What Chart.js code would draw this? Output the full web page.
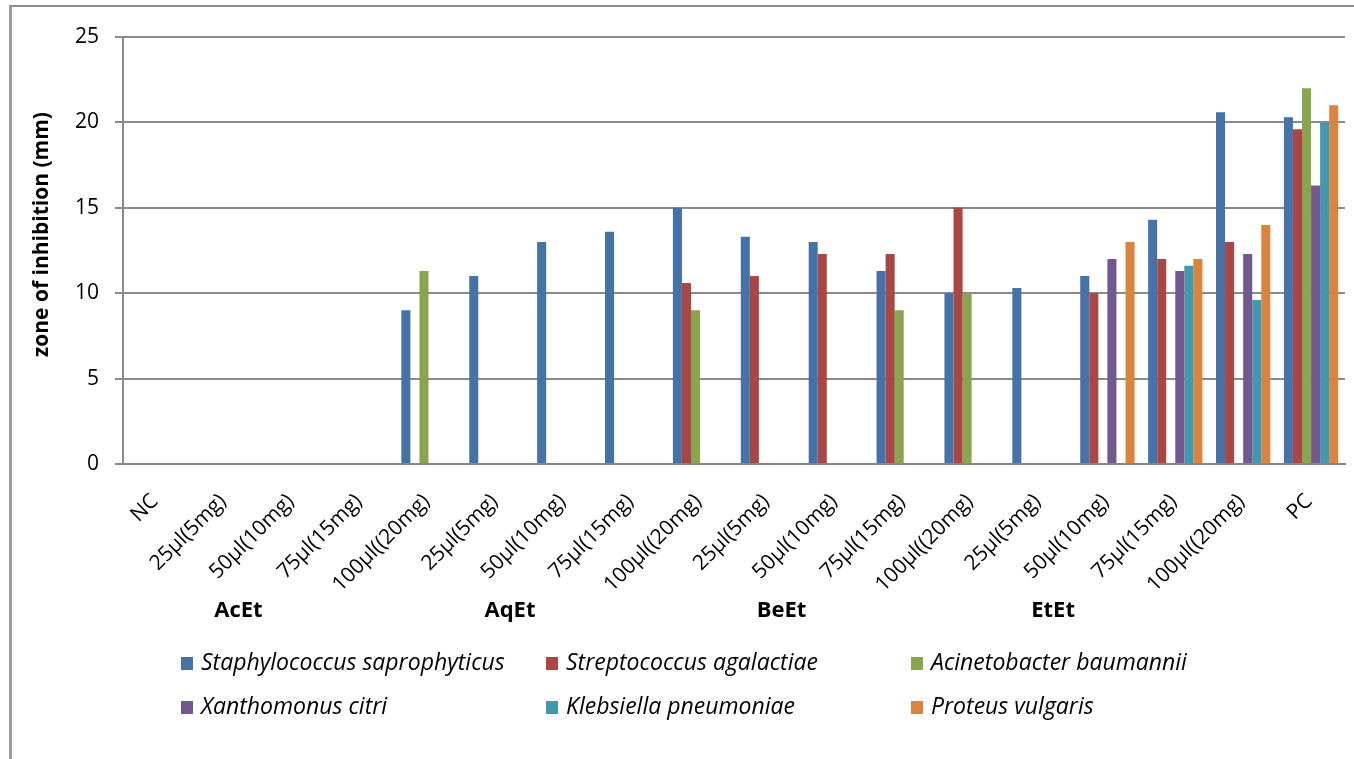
<!DOCTYPE html>
<html>
<head>
<meta charset="utf-8">
<title>Zone of inhibition</title>
<script src="https://cdn.jsdelivr.net/npm/chart.js@4/dist/chart.umd.min.js"></script>
<style>
  html, body { margin: 0; padding: 0; background: #fff; overflow: hidden; }
  #wrap { position: relative; width: 1354px; height: 759px; }
  #frame { position: absolute; left: 9px; top: 5px; width: 1400px; height: 800px;
           border-left: 3px solid #9a9a9a; border-top: 2px solid #8c8c8c; pointer-events: none; }
  canvas { display: block; }
</style>
</head>
<body>
<div id="wrap">
  <canvas id="chart" width="1354" height="759"></canvas>
  <div id="frame"></div>
</div>
<script>
// Categories along the x axis
const categories = [
  'NC',
  '25µl(5mg)', '50µl(10mg)', '75µl(15mg)', '100µl((20mg)',
  '25µl(5mg)', '50µl(10mg)', '75µl(15mg)', '100µl((20mg)',
  '25µl(5mg)', '50µl(10mg)', '75µl(15mg)', '100µl((20mg)',
  '25µl(5mg)', '50µl(10mg)', '75µl(15mg)', '100µl((20mg)',
  'PC'
];

// Extract groups and the index of the first category in each
const extractGroups = ['AcEt', 'AqEt', 'BeEt', 'EtEt'];
const groupStart = [1, 5, 9, 13];

// Organisms (series names)
const organisms = [
  'Staphylococcus saprophyticus',
  'Streptococcus agalactiae',
  'Acinetobacter baumannii',
  'Xanthomonus citri',
  'Klebsiella pneumoniae',
  'Proteus vulgaris'
];

// Zone of inhibition (mm) per category
const staphylococcus = [0, 0, 0, 0, 9,   11, 13, 13.6, 15,   13.3, 13, 11.3, 10,   10.3, 11, 14.3, 20.6,   20.3];
const streptococcus  = [0, 0, 0, 0, 0,   0, 0, 0, 10.6,      11, 12.3, 12.3, 15,   0, 10, 12, 13,          19.6];
const acinetobacter  = [0, 0, 0, 0, 11.3, 0, 0, 0, 9,        0, 0, 9, 10,          0, 0, 0, 0,             22];
const xanthomonus    = [0, 0, 0, 0, 0,   0, 0, 0, 0,         0, 0, 0, 0,           0, 12, 11.3, 12.3,      16.3];
const klebsiella     = [0, 0, 0, 0, 0,   0, 0, 0, 0,         0, 0, 0, 0,           0, 0, 11.6, 9.6,        20];
const proteus        = [0, 0, 0, 0, 0,   0, 0, 0, 0,         0, 0, 0, 0,           0, 13, 12, 14,          21];

// Y axis ticks and title
const yTicks = [0, 5, 10, 15, 20, 25];
const yTitle = 'zone of inhibition (mm)';

const seriesValues = [staphylococcus, streptococcus, acinetobacter, xanthomonus, klebsiella, proteus];
const seriesColors = ['#4672a8', '#aa4643', '#89a54e', '#71588f', '#4198af', '#db843d'];

const FONT = '"Open Sans", Lato, sans-serif';

// Vertical axis title, set a little above the plot's middle
const axisTitle = {
  id: 'axisTitle',
  afterDraw(chart) {
    const ctx = chart.ctx;
    const area = chart.chartArea;
    ctx.save();
    ctx.translate(42, (area.top + area.bottom) / 2 - 16);
    ctx.rotate(-Math.PI / 2);
    ctx.font = 'bold 21px ' + FONT;
    ctx.fillStyle = '#000';
    ctx.textAlign = 'center';
    ctx.textBaseline = 'middle';
    ctx.fillText(yTitle, 0, 0);
    ctx.restore();
  }
};

// Category labels at 45°, each ending just under its tick
const slantedTicks = {
  id: 'slantedTicks',
  afterDraw(chart) {
    const ctx = chart.ctx;
    const x = chart.scales.x;
    ctx.save();
    ctx.font = '21px ' + FONT;
    ctx.fillStyle = '#000';
    ctx.textAlign = 'right';
    ctx.textBaseline = 'middle';
    chart.data.labels.forEach((lbl, i) => {
      ctx.save();
      ctx.translate(x.getPixelForTick(i) - 2, x.top + 34);
      ctx.rotate(-Math.PI / 4);
      ctx.fillText(lbl, 0, 0);
      ctx.restore();
    });
    ctx.restore();
  }
};

// Second-level category labels under the slanted labels
const groupLabels = {
  id: 'groupLabels',
  afterDraw(chart) {
    const ctx = chart.ctx;
    const x = chart.scales.x;
    ctx.save();
    ctx.font = 'bold 22px ' + FONT;
    ctx.fillStyle = '#000';
    ctx.textAlign = 'center';
    ctx.textBaseline = 'middle';
    extractGroups.forEach((g, i) => {
      ctx.fillText(g, x.getPixelForValue(groupStart[i] + 0.2), 611);
    });
    ctx.restore();
  }
};

// Three-column legend below the axis
const gridLegend = {
  id: 'gridLegend',
  afterDraw(chart) {
    const ctx = chart.ctx;
    ctx.save();
    ctx.font = 'italic 23px ' + FONT;
    ctx.textAlign = 'left';
    ctx.textBaseline = 'middle';
    chart.data.datasets.forEach((ds, i) => {
      const col = i % 3, row = Math.floor(i / 3);
      const lx = 181 + col * 365;
      const ly = 663 + row * 44;
      ctx.fillStyle = ds.backgroundColor;
      ctx.fillRect(lx, ly - 6, 12, 13);
      ctx.fillStyle = '#000';
      ctx.fillText(ds.label, lx + 20, ly);
    });
    ctx.restore();
  }
};

function build() {
  new Chart(document.getElementById('chart'), {
    type: 'bar',
    data: {
      labels: categories,
      datasets: organisms.map((name, i) => ({
        label: name,
        data: seriesValues[i],
        backgroundColor: seriesColors[i],
        borderWidth: 0,
        barPercentage: 1.0,
        categoryPercentage: 0.8
      }))
    },
    options: {
      responsive: false,
      animation: false,
      devicePixelRatio: 1,
      layout: { padding: { left: 0, right: 9, top: 37, bottom: 165 } },
      plugins: {
        legend: { display: false },
        tooltip: { enabled: false }
      },
      scales: {
        x: {
          grid: { display: false, drawTicks: false },
          border: { display: true, color: '#868686', width: 2 },
          ticks: { display: false, autoSkip: false },
          afterFit(scale) { scale.height = 130; }
        },
        y: {
          min: 0,
          max: 25,
          afterBuildTicks(scale) { scale.ticks = yTicks.map(v => ({ value: v })); },
          grid: { color: '#8a8a8a', lineWidth: 2, tickLength: 8, drawTicks: true },
          border: { display: true, color: '#8a8a8a', width: 2 },
          ticks: {
            padding: 16,
            color: '#000',
            font: { family: FONT, size: 21 }
          },
          afterFit(scale) { scale.width = 123; }
        }
      }
    },
    plugins: [axisTitle, slantedTicks, groupLabels, gridLegend]
  });
}

const fontLoads = ['20px "Open Sans"', 'bold 20px "Open Sans"', 'italic 20px "Open Sans"'].map(f => document.fonts.load(f));
Promise.all(fontLoads).then(build, build);
</script>
</body>
</html>
